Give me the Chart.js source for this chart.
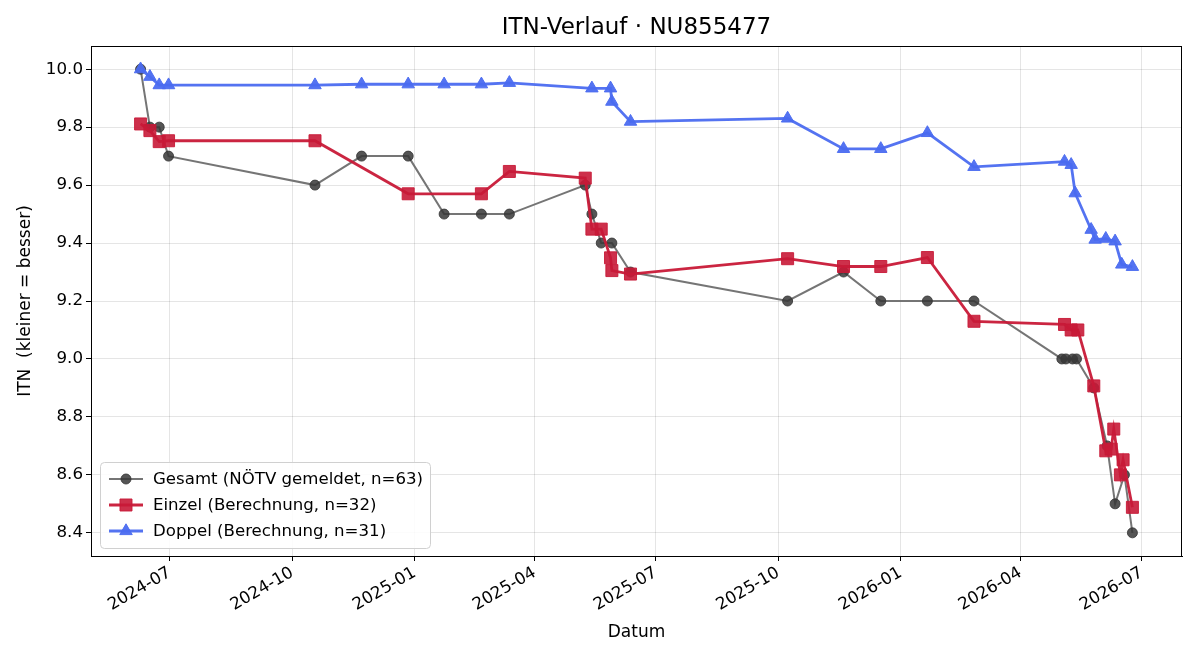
<!DOCTYPE html>
<html>
<head>
<meta charset="utf-8">
<script src="https://cdn.jsdelivr.net/npm/chart.js@4/dist/chart.umd.min.js"></script>
<style>
  html, body { margin: 0; padding: 0; background: #fff; }
  #box { width: 1200px; height: 660px; }
</style>
</head>
<body>
<div id="box"><canvas id="grafico"></canvas></div>
<script>
// Gesamt (NÖTV gemeldet)
var gesamtFechas = ['2024-06-09','2024-06-16','2024-06-23','2024-06-30','2024-10-18','2024-11-22','2024-12-27',
  '2025-01-23','2025-02-20','2025-03-13','2025-05-09','2025-05-14','2025-05-21','2025-05-29','2025-06-12',
  '2025-10-08','2025-11-19','2025-12-17','2026-01-21','2026-02-25','2026-05-02','2026-05-05','2026-05-10',
  '2026-05-13','2026-05-26','2026-06-05','2026-06-11','2026-06-18','2026-06-24'];
var gesamtWerte = [10.0, 9.8, 9.8, 9.7, 9.6, 9.7, 9.7,
  9.5, 9.5, 9.5, 9.6, 9.5, 9.4, 9.4, 9.3,
  9.2, 9.3, 9.2, 9.2, 9.2, 9.0, 9.0, 9.0,
  9.0, 8.9, 8.7, 8.5, 8.6, 8.4];

// Einzel (Berechnung)
var einzelFechas = ['2024-06-09','2024-06-16','2024-06-23','2024-06-30','2024-10-18','2024-12-27','2025-02-20',
  '2025-03-13','2025-05-09','2025-05-14','2025-05-21','2025-05-28','2025-05-29','2025-06-12','2025-10-08',
  '2025-11-19','2025-12-17','2026-01-21','2026-02-25','2026-05-04','2026-05-09','2026-05-14','2026-05-26',
  '2026-06-04','2026-06-08','2026-06-10','2026-06-15','2026-06-17','2026-06-24'];
var einzelWerte = [9.811, 9.788, 9.75, 9.753, 9.753, 9.57, 9.57,
  9.647, 9.624, 9.448, 9.448, 9.349, 9.305, 9.293, 9.346,
  9.319, 9.319, 9.35, 9.13, 9.119, 9.10, 9.10, 8.907,
  8.683, 8.689, 8.758, 8.60, 8.652, 8.488];

// Doppel (Berechnung)
var doppelFechas = ['2024-06-09','2024-06-16','2024-06-23','2024-06-30','2024-10-18','2024-11-22','2024-12-27',
  '2025-01-23','2025-02-20','2025-03-13','2025-05-14','2025-05-28','2025-05-29','2025-06-12','2025-10-08',
  '2025-11-19','2025-12-17','2026-01-21','2026-02-25','2026-05-04','2026-05-09','2026-05-12','2026-05-24',
  '2026-05-27','2026-06-04','2026-06-11','2026-06-16','2026-06-24'];
var doppelWerte = [10.0, 9.974, 9.945, 9.945, 9.945, 9.948, 9.948,
  9.948, 9.948, 9.953, 9.934, 9.934, 9.888, 9.819, 9.83,
  9.725, 9.725, 9.78, 9.663, 9.681, 9.67, 9.572, 9.446,
  9.412, 9.415, 9.406, 9.326, 9.318];

var etiquetasMes = ['2024-07','2024-10','2025-01','2025-04','2025-07','2025-10','2026-01','2026-04','2026-07'];
var etiquetasY = [8.4, 8.6, 8.8, 9.0, 9.2, 9.4, 9.6, 9.8, 10.0];
var nombresSeries = ['Gesamt (NÖTV gemeldet, n=63)', 'Einzel (Berechnung, n=32)', 'Doppel (Berechnung, n=31)'];
var titulo = 'ITN-Verlauf · NU855477';

function diaDe(fecha) {
  var p = fecha.split('-');
  return Date.UTC(Number(p[0]), Number(p[1]) - 1, p[2] ? Number(p[2]) : 1) / 86400000;
}

function textoDia(dia) {
  var d = new Date(dia * 86400000);
  var mes = d.getUTCMonth() + 1;
  return d.getUTCFullYear() + '-' + (mes < 10 ? '0' + mes : mes);
}

function puntos(fechas, valores) {
  var lista = [];
  for (var i = 0; i < fechas.length; i++) {
    lista.push({x: diaDe(fechas[i]), y: valores[i]});
  }
  return lista;
}

var todosDias = gesamtFechas.concat(einzelFechas, doppelFechas).map(diaDe);
var diaMin = Math.min.apply(null, todosDias);
var diaMax = Math.max.apply(null, todosDias);
var margenX = (diaMax - diaMin) * 0.05;
var todosValores = gesamtWerte.concat(einzelWerte, doppelWerte);
var valMin = Math.min.apply(null, todosValores);
var valMax = Math.max.apply(null, todosValores);
var margenY = (valMax - valMin) * 0.05;

var fuente = "'DejaVu Sans', sans-serif";
var estilos = [
  {linea: 'rgba(110,110,110,0.95)', punto: 'rgba(55,55,55,0.85)', forma: 'circle', radio: 5, ancho: 2},
  {linea: 'rgba(200,25,55,0.95)', punto: 'rgba(200,25,55,0.9)', forma: 'rect', radio: 8.5, ancho: 2.8},
  {linea: 'rgba(75,108,240,0.95)', punto: 'rgba(75,108,240,0.95)', forma: 'triangle', radio: 7.2, ancho: 2.8}
];

var leyendaPlugin = {
  id: 'leyendaPlugin',
  afterDatasetsDraw: function(chart) {
    var ctx = chart.ctx;
    var a = chart.chartArea;
    ctx.save();
    ctx.strokeStyle = '#000';
    ctx.lineWidth = 1;
    ctx.strokeRect(a.left + 0.5, a.top + 0.5, a.right - a.left - 1, a.bottom - a.top);

    // titulo centrado sobre el area del grafico
    ctx.font = '23px ' + fuente;
    ctx.textAlign = 'center';
    ctx.textBaseline = 'middle';
    ctx.fillStyle = '#000';
    ctx.fillText(titulo, (a.left + a.right) / 2, 28);
    ctx.textAlign = 'left';

    var x0 = 100, y0 = 462, w = 330, h = 86;
    ctx.beginPath();
    ctx.roundRect(x0 + 0.5, y0 + 0.5, w, h, 4);
    ctx.fillStyle = 'rgba(255,255,255,0.85)';
    ctx.fill();
    ctx.strokeStyle = '#d0d0d0';
    ctx.stroke();

    ctx.font = '16.6px ' + fuente;
    for (var i = 0; i < nombresSeries.length; i++) {
      var yy = y0 + 17 + i * 26;
      var e = estilos[i];
      ctx.beginPath();
      ctx.moveTo(x0 + 9, yy);
      ctx.lineTo(x0 + 43, yy);
      ctx.strokeStyle = e.linea;
      ctx.lineWidth = e.ancho;
      ctx.stroke();
      ctx.fillStyle = e.punto;
      ctx.strokeStyle = e.punto;
      ctx.lineWidth = 1;
      Chart.helpers.drawPoint(ctx, {pointStyle: e.forma, radius: e.radio, borderWidth: 1, rotation: 0}, x0 + 26, yy);
      ctx.fillStyle = '#000';
      ctx.fillText(nombresSeries[i], x0 + 53, yy + 1);
    }
    ctx.restore();
  }
};

var datasets = [];
var series = [[gesamtFechas, gesamtWerte], [einzelFechas, einzelWerte], [doppelFechas, doppelWerte]];
for (var s = 0; s < series.length; s++) {
  var e = estilos[s];
  datasets.push({
    label: nombresSeries[s],
    data: puntos(series[s][0], series[s][1]),
    borderColor: e.linea,
    backgroundColor: e.punto,
    pointBackgroundColor: e.punto,
    pointBorderColor: e.punto,
    pointStyle: e.forma,
    pointRadius: e.radio,
    pointHoverRadius: e.radio,
    pointBorderWidth: 1,
    borderWidth: e.ancho,
    tension: 0,
    order: 3 - s
  });
}

Chart.defaults.font.family = fuente;
Chart.defaults.color = '#000';

var chart = new Chart(document.getElementById('grafico').getContext('2d'), {
  type: 'line',
  data: {datasets: datasets},
  plugins: [leyendaPlugin],
  options: {
    responsive: true,
    maintainAspectRatio: false,
    animation: false,
    layout: {padding: {left: 0, right: 18, top: 46, bottom: 0}},
    plugins: {
      legend: {display: false},
      tooltip: {enabled: false},
      title: {display: false}
    },
    scales: {
      x: {
        type: 'linear',
        min: diaMin - margenX,
        max: diaMax + margenX,
        afterFit: function(scale) { scale.height = 104; },
        afterBuildTicks: function(scale) {
          scale.ticks = etiquetasMes.map(function(m) { return {value: diaDe(m)}; });
        },
        ticks: {
          autoSkip: false,
          minRotation: 30,
          maxRotation: 30,
          padding: 2,
          font: {size: 16.7},
          callback: function(v) { return textoDia(v); }
        },
        grid: {color: 'rgba(0,0,0,0.1)', tickColor: '#000', tickLength: 5},
        border: {color: '#000', width: 1},
        title: {display: true, text: 'Datum', font: {size: 17}, padding: {top: 4, bottom: 17}}
      },
      y: {
        type: 'linear',
        min: valMin - margenY,
        max: valMax + margenY,
        afterFit: function(scale) { scale.width = 91; },
        afterBuildTicks: function(scale) {
          scale.ticks = etiquetasY.map(function(v) { return {value: v}; });
        },
        ticks: {
          padding: 3,
          font: {size: 16.7},
          callback: function(v) { return Number(v).toFixed(1); }
        },
        grid: {color: 'rgba(0,0,0,0.1)', tickColor: '#000', tickLength: 5},
        border: {color: '#000', width: 1},
        title: {display: true, text: 'ITN  (kleiner = besser)', font: {size: 17}, padding: {top: 15, bottom: 4}}
      }
    }
  }
});
</script>
</body>
</html>
